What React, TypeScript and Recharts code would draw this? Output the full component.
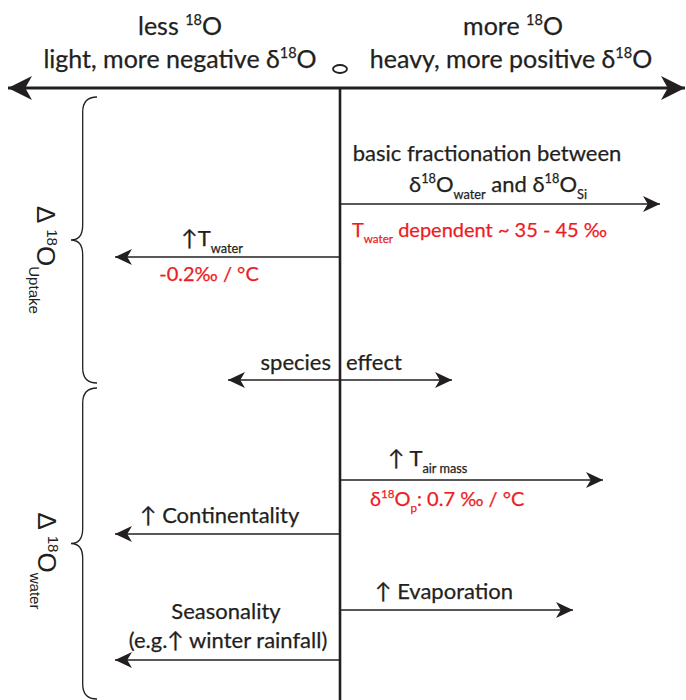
import { ComposedChart, Line, Scatter, XAxis, YAxis, ReferenceArea } from 'recharts';

const INK = '#231f20';
const RED = '#ed1c24';
const FONT = 'Lato, "Open Sans", "DejaVu Sans", sans-serif';
const SIDE_FONT = '"Liberation Sans", Arial, sans-serif';

// δ18O axis runs left (negative) to right (positive); rows are vertical positions
const mainAxis = { row: 88, from: -332, to: 345, both: true };
const centerLine = [{ x: 0, y: 88 }, { x: 0, y: 700 }];

const effectArrows = [
  { row: 204, from: 0, to: 320 },
  { row: 257, from: 0, to: -225 },
  { row: 380, from: -112, to: 112, both: true },
  { row: 480, from: 0, to: 263 },
  { row: 534, from: 0, to: -225 },
  { row: 610, from: 0, to: 233 },
  { row: 660, from: 0, to: -225 },
];

const braces = [
  { top: 97, bottom: 383, tip: -269, edge: -243 },
  { top: 388, bottom: 699, tip: -269, edge: -243 },
];

const zeroMark = [{ x: 0, y: 69 }];

// text parts: [text, '' | 'sup' | 'sub']
const labels = [
  { x: -160, y: 35, anchor: 'middle', role: 'header', parts: [['less ', ''], ['18', 'sup'], ['O', '']] },
  { x: -160, y: 68, anchor: 'middle', role: 'header', parts: [['light, more negative δ', ''], ['18', 'sup'], ['O', '']] },
  { x: 173, y: 35, anchor: 'middle', role: 'header', parts: [['more ', ''], ['18', 'sup'], ['O', '']] },
  { x: 171, y: 68, anchor: 'middle', role: 'header', parts: [['heavy, more positive δ', ''], ['18', 'sup'], ['O', '']] },
  { x: 147, y: 161, anchor: 'middle', role: 'note', parts: [['basic fractionation between', '']] },
  { x: 158, y: 192, anchor: 'middle', role: 'note', parts: [['δ', ''], ['18', 'sup'], ['O', ''], ['water', 'sub'], [' and  δ', ''], ['18', 'sup'], ['O', ''], ['Si', 'sub']] },
  { x: 12, y: 237, anchor: 'start', role: 'red', parts: [['T', ''], ['water', 'sub'], [' dependent ~ 35 - 45 ‰', '']] },
  { x: -128, y: 246, anchor: 'middle', role: 'note', parts: [['↑T', ''], ['water', 'sub']] },
  { x: -131, y: 281, anchor: 'middle', role: 'red', parts: [['-0.2‰ / °C', '']] },
  { x: -9, y: 370, anchor: 'end', role: 'note', parts: [['species', '']] },
  { x: 6, y: 370, anchor: 'start', role: 'note', parts: [['effect', '']] },
  { x: 48, y: 466, anchor: 'start', role: 'note', parts: [['↑ T', ''], ['air mass', 'sub']] },
  { x: 30, y: 506, anchor: 'start', role: 'red', parts: [['δ', ''], ['18', 'sup'], ['O', ''], ['p', 'sub'], [': 0.7 ‰ / °C', '']] },
  { x: -200, y: 523, anchor: 'start', role: 'note', parts: [['↑ Continentality', '']] },
  { x: 35, y: 599, anchor: 'start', role: 'note', parts: [['↑ Evaporation', '']] },
  { x: -114, y: 619, anchor: 'middle', role: 'note', parts: [['Seasonality', '']] },
  { x: -112, y: 648, anchor: 'middle', role: 'note', parts: [['(e.g.↑ winter rainfall)', '']] },
  { x: -303, y: 260, anchor: 'middle', role: 'side', rotate: 90, parts: [['Δ ', ''], ['18', 'sup'], ['O', ''], ['Uptake', 'sub']] },
  { x: -302, y: 561, anchor: 'middle', role: 'side', rotate: 90, parts: [['Δ ', ''], ['18', 'sup'], ['O', ''], ['water', 'sub']] },
];

const STYLES = {
  header: { size: 25, color: INK, font: FONT },
  note: { size: 22, color: INK, font: FONT },
  red: { size: 20, color: RED, font: FONT },
  side: { size: 26, color: INK, font: SIDE_FONT },
};

function richText(parts, size) {
  let shift = 0;
  return parts.map(([t, k], i) => {
    const target = k === 'sup' ? -0.4 * size : k === 'sub' ? 0.3 * size : 0;
    const dy = target - shift;
    shift = target;
    return (
      <tspan key={i} dy={dy} fontSize={k ? size * 0.58 : size}>
        {t}
      </tspan>
    );
  });
}

function LabelShape(props) {
  const d = props.payload || props;
  const { cx, cy } = props;
  const s = STYLES[d.role];
  return (
    <text
      x={cx}
      y={cy}
      textAnchor={d.anchor}
      fill={s.color}
      fontFamily={s.font}
      fontSize={s.size}
      stroke={d.role === 'side' ? 'none' : s.color}
      strokeWidth={0.25}
      transform={d.rotate ? `rotate(${d.rotate} ${cx} ${cy})` : undefined}
    >
      {richText(d.parts, s.size)}
    </text>
  );
}

const arrowDot = (a, L, W) => (p) => {
  const { cx, cy, index } = p;
  const dir = Math.sign(a.to - a.from);
  const isEnd = index === 1;
  if (!isEnd && !a.both) return <g key={`n${index}`} />;
  const d = isEnd ? dir : -dir;
  const pts = `${cx},${cy} ${cx - d * L},${cy - W} ${cx - d * L * 0.72},${cy} ${cx - d * L},${cy + W}`;
  return <polygon key={`h${index}`} points={pts} fill={INK} />;
};

function BraceShape(props) {
  const { x, y, width, height } = props;
  const x0 = x;
  const x1 = x + width;
  const yt = Math.min(y, y + height);
  const yb = Math.max(y, y + height);
  const xm = x0 + (x1 - x0) * 0.45;
  const ym = (yt + yb) / 2;
  const r = 15;
  const path = `M${x1},${yt} Q${xm},${yt} ${xm},${yt + r} L${xm},${ym - r} Q${xm},${ym} ${x0},${ym} Q${xm},${ym} ${xm},${ym + r} L${xm},${yb - r} Q${xm},${yb} ${x1},${yb}`;
  return <path d={path} fill="none" stroke={INK} strokeWidth={1.3} />;
}

function ZeroShape(props) {
  const { cx, cy } = props;
  return <ellipse cx={cx} cy={cy} rx={7} ry={4} fill="none" stroke={INK} strokeWidth={1.8} />;
}

function arrowLine(a, i, width, L, W) {
  return (
    <Line
      key={`a${i}`}
      data={[{ x: a.from, y: a.row }, { x: a.to, y: a.row }]}
      dataKey="y"
      type="linear"
      stroke={INK}
      strokeWidth={width}
      dot={arrowDot(a, L, W)}
      activeDot={false}
      isAnimationActive={false}
    />
  );
}

export default function App() {
  return (
    <div style={{ width: 686, height: 700, background: '#fff' }}>
      <style>{'body{margin:0}'}</style>
      <ComposedChart width={686} height={700} margin={{ top: 0, right: 0, bottom: 0, left: 0 }}>
        <XAxis type="number" dataKey="x" domain={[-340, 346]} hide allowDataOverflow />
        <YAxis type="number" dataKey="y" domain={[0, 700]} reversed hide allowDataOverflow />
        {braces.map((b, i) => (
          <ReferenceArea
            key={`b${i}`}
            x1={b.tip}
            x2={b.edge}
            y1={b.top}
            y2={b.bottom}
            ifOverflow="visible"
            shape={BraceShape}
          />
        ))}
        <Line
          data={centerLine}
          dataKey="y"
          type="linear"
          stroke={INK}
          strokeWidth={2.6}
          dot={false}
          activeDot={false}
          isAnimationActive={false}
        />
        {arrowLine(mainAxis, 'main', 3, 24, 12)}
        {effectArrows.map((a, i) => arrowLine(a, i, 1.4, 17, 8))}
        <Scatter data={zeroMark} shape={ZeroShape} isAnimationActive={false} />
        <Scatter data={labels} shape={LabelShape} isAnimationActive={false} />
      </ComposedChart>
    </div>
  );
}
